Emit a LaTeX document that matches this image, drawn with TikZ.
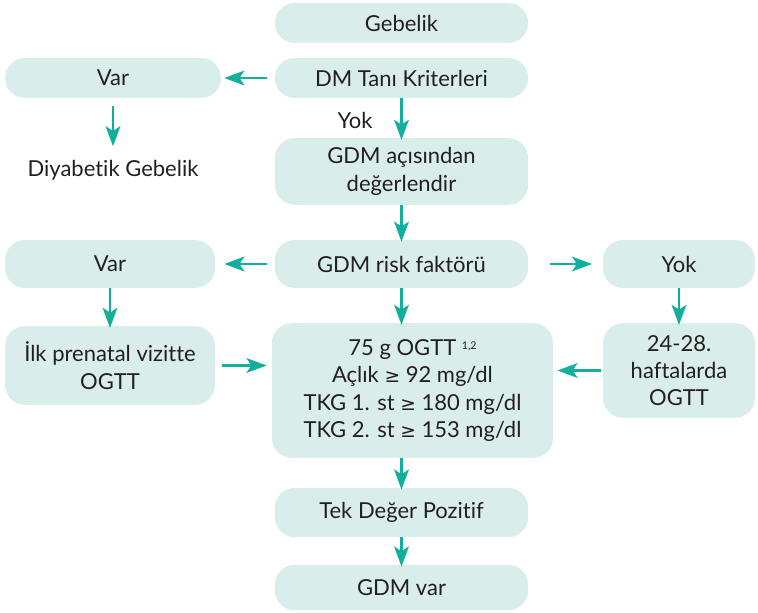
\documentclass[tikz,border=0pt]{standalone}
\usepackage{fontspec}
\setmainfont{Lato}[Ligatures=NoCommon]
\newfontfamily\symfont{DejaVu Sans}
\usepackage{tikz}
\usetikzlibrary{arrows.meta}
\definecolor{boxfill}{HTML}{D9EEEB}
\definecolor{arrowteal}{HTML}{12B09B}
\definecolor{ink}{HTML}{231F20}
\newcommand{\gtq}{{\symfont\fontsize{14}{17}\selectfont ≥}}

\begin{document}
\begin{tikzpicture}[x=0.75pt, y=-0.75pt,
    every node/.style={text=ink, font=\fontsize{16.5}{20.5}\selectfont},
    box/.style={rectangle, rounded corners=15pt, fill=boxfill, align=center, inner sep=0pt},
    flow/.style={draw=arrowteal, line width=1.9pt, -{Stealth[length=15pt, width=11pt, inset=3.5pt]}}]
    \useasboundingbox (0,0) rectangle (758,613);
    \node[box, minimum width=190pt, minimum height=30pt] (a) at (401.5, 23) {Gebelik};
    \node[box, minimum width=190pt, minimum height=30pt] (b) at (401.5, 78) {DM Tanı Kriterleri};
    \node[box, minimum width=162pt, minimum height=30pt] (c) at (113, 78) {Var};
    \node (d) at (113, 170) {Diyabetik Gebelik};
    \node (y) at (355, 120) {Yok};
    \node[box, minimum width=190pt, minimum height=50pt] (e) at (401.5, 171.5) {GDM açısından\\değerlendir};
    \node[box, minimum width=190pt, minimum height=36pt] (f) at (401.5, 264) {GDM risk faktörü};
    \node[box, minimum width=157.5pt, minimum height=36pt] (g) at (110, 264) {Var};
    \node[box, minimum width=114pt, minimum height=36pt] (h) at (679, 264) {Yok};
    \node[box, minimum width=157.5pt, minimum height=59pt] (i) at (110, 365.5) {İlk prenatal vizitte\\OGTT};
    \node[box, minimum width=114pt, minimum height=71pt] (j) at (679, 370.5) {24-28.\\haftalarda\\OGTT};
    \node[box, minimum width=211pt, minimum height=101pt] (k) at (412.5, 390.5)
        {75 g OGTT \raisebox{0.55ex}{\fontsize{8}{8}\selectfont 1,2}\\
         Açlık \gtq{} 92 mg/dl\\
         TKG 1. st \gtq{} 180 mg/dl\\
         TKG 2. st \gtq{} 153 mg/dl};
    \node[box, minimum width=190pt, minimum height=37pt] (l) at (401.5, 512.5) {Tek Değer Pozitif};
    \node[box, minimum width=190pt, minimum height=34pt] (m) at (401.5, 587.5) {GDM var};
    \draw[flow, shorten <=6pt, shorten >=2.25pt] (b) -- (c);
    \draw[flow, shorten <=6pt, shorten >=6.75pt] (c) -- (d);
    \draw[flow, shorten >=-1.5pt] (b) -- (e);
    \draw[flow, shorten >=-1.5pt] (e) -- (f);
    \draw[flow, shorten <=6pt, shorten >=6.75pt] (f) -- (g);
    \draw[flow, shorten <=16.5pt, shorten >=8pt] (f) -- (h);
    \draw[flow, shorten >=-1.5pt] (g) -- (i);
    \draw[flow, shorten >=-1.5pt] (h) -- (j);
    \draw[flow, shorten <=5pt, shorten >=3.75pt] (i.east) -- (k.west |- i.east);
    \draw[flow, shorten <=1.5pt, shorten >=3pt] (j.west) -- (k.east |- j.west);
    \draw[flow, shorten >=-1.5pt] (f.south) -- (f.south |- k.north);
    \draw[flow, shorten >=-1.5pt] (k.south -| l.south) -- (l.north);
    \draw[flow, shorten >=-1.5pt] (l) -- (m);
    %\draw[flow] (a) -- (b);
\end{tikzpicture}
\end{document}
